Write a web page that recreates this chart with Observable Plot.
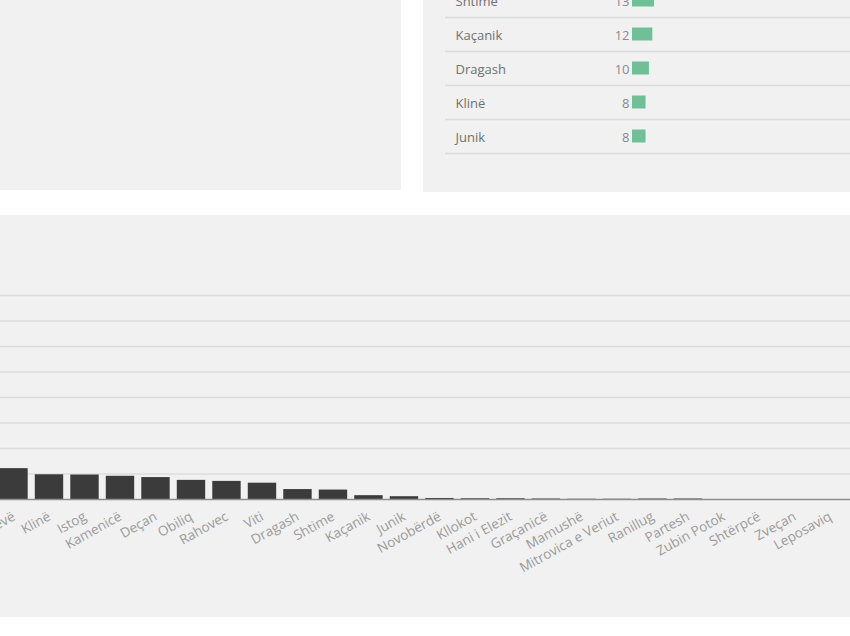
<!DOCTYPE html>
<html>
<head>
<meta charset="utf-8">
<script src="https://cdn.jsdelivr.net/npm/d3@7"></script>
<script src="https://cdn.jsdelivr.net/npm/@observablehq/plot@0.6"></script>
<style>
  html, body { margin: 0; padding: 0; background: #ffffff; }
  body { width: 850px; height: 636px; position: relative; overflow: hidden; font-family: "Open Sans", sans-serif; }
  .panel { position: absolute; background: #f1f1f1; overflow: hidden; }
  #p1 { left: 0; top: 0; width: 401px; height: 190px; }
  #p2 { left: 423px; top: 0; width: 427px; height: 192px; }
  #p3 { left: 0; top: 215px; width: 850px; height: 402px; }
  #p2 svg { position: absolute; left: 0; top: -17px; max-width: none !important; }
  #p3 svg { position: absolute; left: -33px; top: 0; max-width: none !important; }
</style>
</head>
<body>
<div class="panel" id="p1"></div>
<div class="panel" id="p2"></div>
<div class="panel" id="p3"></div>
<script>
// Bottom chart: municipalities and values
const towns = ["Podujevë","Klinë","Istog","Kamenicë","Deçan","Obiliq","Rahovec","Viti","Dragash","Shtime","Kaçanik","Junik","Novobërdë","Kllokot","Hani i Elezit","Graçanicë","Mamushë","Mitrovica e Veriut","Ranillug","Partesh","Zubin Potok","Shtërpcë","Zveçan","Leposaviq"];
const totals = [121, 97, 96, 91, 86, 75, 71, 64, 39, 37, 15, 11, 4, 3, 3, 2, 1, 1, 2, 2, 0, 0, 0, 0];
const yTicks = [100, 200, 300, 400, 500, 600, 700, 800];

// Top-right list
const listNames = ["Shtime", "Kaçanik", "Dragash", "Klinë", "Junik"];
const listValues = [13, 12, 10, 8, 8];

const barData = towns.map((t, i) => ({town: t, value: totals[i]}));
const rows = listNames.map((n, i) => ({name: n, value: listValues[i]}));

const bottom = Plot.plot({
  width: 885,
  height: 402,
  marginLeft: 25.2,
  marginRight: 0.8,
  marginTop: 80,
  marginBottom: 118,
  style: {background: "transparent", fontFamily: "Open Sans", fontSize: "13.5px", color: "#9a9a9a", overflow: "visible", maxWidth: "none"},
  x: {domain: towns, padding: 0.2, round: false, tickRotate: -29, tickSize: 0, tickPadding: 16, label: null},
  y: {domain: [0, 800], axis: null},
  marks: [
    Plot.ruleY(yTicks, {stroke: "#dcdcdc", strokeWidth: 1.5}),
    Plot.barY(barData, {x: "town", y: "value", fill: "#3b3b3b"}),
    Plot.ruleY([0], {stroke: "#8e8e8e", strokeWidth: 1.5})
  ]
});
document.getElementById("p3").appendChild(bottom);

const list = Plot.plot({
  width: 427,
  height: 170,
  marginLeft: 22,
  marginRight: 0,
  marginTop: 0,
  marginBottom: 0,
  style: {background: "transparent", fontFamily: "Open Sans", fontSize: "13px", overflow: "visible", maxWidth: "none"},
  x: {domain: [0, 13], range: [209, 231], axis: null},
  y: {domain: listNames, padding: 0, axis: null},
  marks: [
    Plot.ruleY(listNames, {y: d => d, dy: 17, stroke: "#dcdcdc", strokeWidth: 1.5}),
    Plot.barX(rows, {y: "name", x: "value", fill: "#70bf97", insetTop: 10.5, insetBottom: 10.5}),
    Plot.text(rows, {y: "name", text: "name", frameAnchor: "left", dx: 10, dy: 1, textAnchor: "start", fill: "#707070"}),
    Plot.text(rows, {y: "name", x: 0, text: d => String(d.value), textAnchor: "end", dx: -3, dy: 1, fill: "#8a8a8a"})
  ]
});
document.getElementById("p2").appendChild(list);
</script>
</body>
</html>
